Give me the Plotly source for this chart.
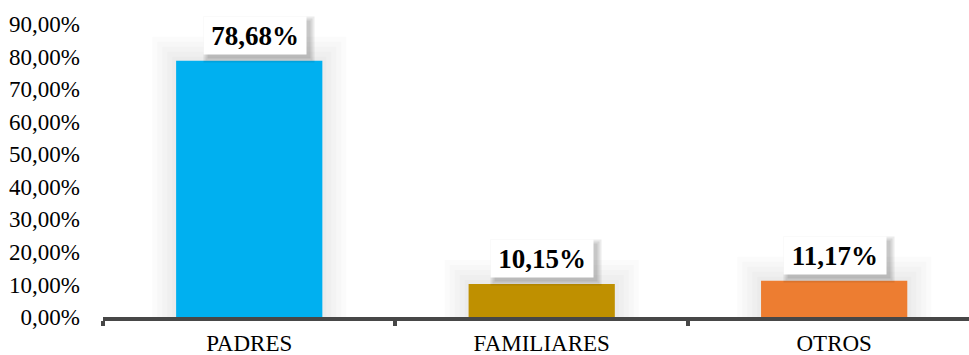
import plotly.graph_objects as go

categories = ["PADRES", "FAMILIARES", "OTROS"]
values = [78.68, 10.15, 11.17]
colors = ["#00B0F0", "#BF9000", "#ED7D31"]
y_ticks = [0, 10, 20, 30, 40, 50, 60, 70, 80, 90]
y_tick_labels = ["0,00%", "10,00%", "20,00%", "30,00%", "40,00%",
                 "50,00%", "60,00%", "70,00%", "80,00%", "90,00%"]
label_nudge = [6, 0, 1]  # horizontal nudge of each value box, px


def pct(v):
    return f"{v:.2f}".replace(".", ",") + "%"


SERIF = "Liberation Serif"
BAR_W = 0.5

fig = go.Figure()

# soft glow behind the columns: transparent bars with wide translucent outlines
for lw in (48, 38, 28, 18, 8):
    fig.add_trace(go.Bar(
        x=categories, y=values, width=BAR_W,
        marker=dict(color="rgba(0,0,0,0)",
                    line=dict(width=lw, color="rgba(0,0,0,0.016)")),
        hoverinfo="skip",
    ))

fig.add_trace(go.Bar(
    x=categories,
    y=values,
    marker=dict(color=colors, line=dict(width=0)),
    width=BAR_W,
    hoverinfo="skip",
))

# value labels in white boxes with a soft drop shadow
BOX_W, BOX_H, PAD = 92, 27, 5
for cat, v, dx in zip(categories, values, label_nudge):
    for grow in (8, 4, 0):
        fig.add_annotation(
            x=cat, y=v, text=" ", showarrow=False,
            yanchor="bottom", yshift=6 - 4 - grow / 2, xshift=dx + 4,
            width=BOX_W + grow, height=BOX_H + grow,
            bgcolor="rgba(0,0,0,0.08)", borderpad=PAD,
        )
    fig.add_annotation(
        x=cat, y=v, text=f"<b>{pct(v)}</b>", showarrow=False,
        yanchor="bottom", yshift=6, xshift=dx,
        width=BOX_W, height=BOX_H, align="center", valign="middle",
        font=dict(family=SERIF, size=27, color="#000000"),
        bgcolor="#FFFFFF", borderpad=PAD,
    )

fig.update_layout(
    width=969, height=355,
    margin=dict(l=103, r=0, t=24, b=38),
    paper_bgcolor="white", plot_bgcolor="white",
    showlegend=False,
    barmode="overlay",
    font=dict(family=SERIF, size=23, color="#000000"),
)
# the category axis runs a little past the right edge of the canvas
fig.update_xaxes(
    type="category",
    range=[-0.5, 2.461],
    showline=True, linecolor="#474747", linewidth=4,
    ticks="outside", tickson="boundaries", ticklen=5, tickwidth=4,
    tickcolor="#474747",
    tickfont=dict(family=SERIF, size=23, color="#000000"),
    ticklabelstandoff=2,
    showgrid=False, zeroline=False,
)
fig.update_yaxes(
    range=[0, 90],
    tickvals=y_ticks, ticktext=y_tick_labels,
    showline=False, showgrid=False, zeroline=False,
    ticks="", ticklabelstandoff=22,
    tickfont=dict(family=SERIF, size=23, color="#000000"),
)

fig.write_html("out.html")
